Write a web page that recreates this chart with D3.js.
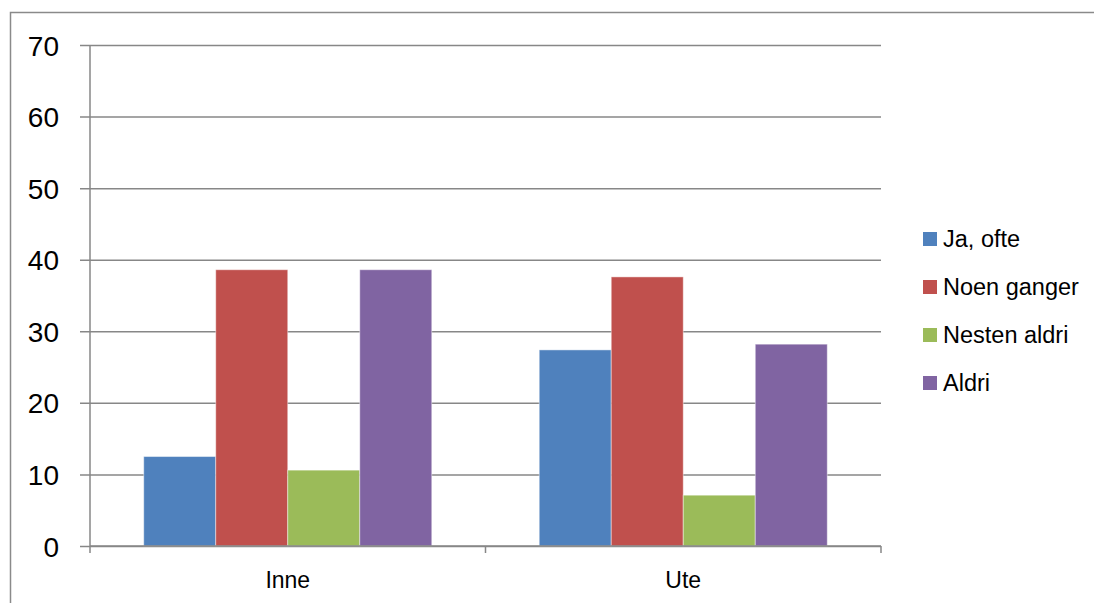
<!DOCTYPE html>
<html><head><meta charset="utf-8">
<script src="https://cdn.jsdelivr.net/npm/d3@7"></script>
<style>body{margin:0;background:#fff}svg{display:block}</style>
</head><body>
<svg id="c" width="1094" height="603"></svg>
<script>
const categories = ["Inne", "Ute"];
const seriesNames = ["Ja, ofte", "Noen ganger", "Nesten aldri", "Aldri"];
const jaOfte = [12.5, 27.4];
const noenGanger = [38.6, 37.6];
const nestenAldri = [10.6, 7.1];
const aldri = [38.6, 28.2];
const yTicks = [0, 10, 20, 30, 40, 50, 60, 70];
const colors = ["#4F81BD", "#C0504D", "#9BBB59", "#8064A2"];

const seriesValues = [jaOfte, noenGanger, nestenAldri, aldri];
const font = "'Liberation Sans', Arial, sans-serif";
const grid = "#878787";

const svg = d3.select("#c");
const L = 90, R = 881, T = 45, B = 546;

// outer border
svg.append("rect").attr("x", 10.5).attr("y", 12.5).attr("width", 1200).attr("height", 700)
  .attr("fill", "none").attr("stroke", "#8a8a8a").attr("stroke-width", 1.5);

const y = d3.scaleLinear().domain([0, 70]).range([B, T]);
const x0 = d3.scaleBand().domain(categories).range([L, R]).padding(0);
const x1 = d3.scaleBand().domain(seriesNames).range([0, x0.bandwidth()]).paddingInner(0).paddingOuter(0.746);

// gridlines + y axis
const yAxis = d3.axisLeft(y).tickValues(yTicks).tickSize(-(R - L) - 10).tickFormat(d3.format("d")).tickPadding(0);
const gy = svg.append("g").attr("transform", `translate(${R},0)`).call(yAxis);
gy.select(".domain").remove();
gy.selectAll(".tick line").attr("x1", 0).attr("x2", -(R - L) - 10).attr("stroke", grid).attr("stroke-width", 1.5);
gy.selectAll(".tick text").attr("x", -(R - L) - 31).attr("dy", "0.36em")
  .attr("font-family", font).attr("font-size", 28).attr("fill", "#000");

// y axis line
svg.append("line").attr("x1", L).attr("x2", L).attr("y1", T).attr("y2", B)
  .attr("stroke", grid).attr("stroke-width", 1.5);

// bars
const groups = svg.append("g").selectAll("g").data(categories).join("g")
  .attr("transform", d => `translate(${x0(d)},0)`);
groups.selectAll("rect").data((c, ci) => seriesNames.map((s, si) => ({s, si, v: seriesValues[si][ci]})))
  .join("rect")
  .attr("x", d => x1(d.s)).attr("width", x1.bandwidth())
  .attr("y", d => y(d.v)).attr("height", d => B - y(d.v))
  .attr("fill", d => colors[d.si])
  .attr("stroke", "#ffffff").attr("stroke-opacity", 0.45).attr("stroke-width", 1);

// x axis
const xAxis = d3.axisBottom(x0).tickSize(0).tickPadding(0);
const gx = svg.append("g").attr("transform", `translate(0,${B})`).call(xAxis);
gx.select(".domain").attr("stroke", grid).attr("stroke-width", 1.5).attr("d", `M${L},0H${R}`);
gx.selectAll(".tick text").attr("y", 42).attr("dy", 0)
  .attr("font-family", font).attr("font-size", 23).attr("fill", "#000");
// category boundary ticks
const bounds = categories.map(c => x0(c)).concat([x0(categories[categories.length - 1]) + x0.bandwidth()]);
gx.selectAll(".bt").data(bounds).join("line").attr("class", "bt")
  .attr("x1", d => d).attr("x2", d => d).attr("y1", 0).attr("y2", 7)
  .attr("stroke", grid).attr("stroke-width", 1.5);

// legend
const lg = svg.append("g");
const rows = lg.selectAll("g").data(seriesNames).join("g")
  .attr("transform", (d, i) => `translate(923,${239 + i * 48})`);
rows.append("rect").attr("x", 0).attr("y", -7).attr("width", 14).attr("height", 14)
  .attr("fill", (d, i) => colors[i]);
rows.append("text").attr("x", 20).attr("y", 0).attr("dy", "0.36em")
  .attr("font-family", font).attr("font-size", 23.5).attr("fill", "#000").text(d => d);
</script>
</body></html>
